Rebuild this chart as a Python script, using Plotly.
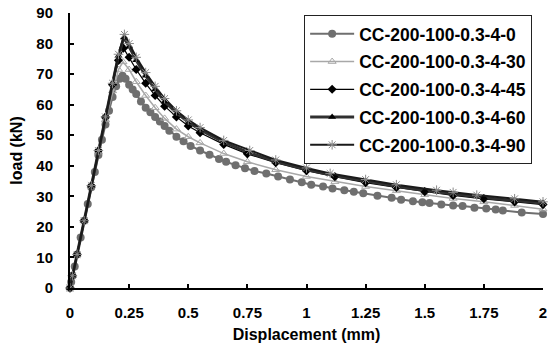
import plotly.graph_objects as go

# ---------------- data ----------------
names = ["CC-200-100-0.3-4-0", "CC-200-100-0.3-4-30", "CC-200-100-0.3-4-45",
         "CC-200-100-0.3-4-60", "CC-200-100-0.3-4-90"]

x_0 = [0, 0.005, 0.01, 0.02, 0.03, 0.045, 0.06, 0.075, 0.09, 0.105, 0.12, 0.135, 0.15,
       0.165, 0.18, 0.195, 0.21, 0.222, 0.235, 0.25, 0.265, 0.28, 0.30, 0.32, 0.34, 0.36,
       0.38, 0.40, 0.42, 0.45, 0.48, 0.51, 0.55, 0.59, 0.63, 0.66, 0.70, 0.74, 0.78, 0.83,
       0.88, 0.93, 0.98, 1.02, 1.07, 1.11, 1.16, 1.20, 1.24, 1.30, 1.36, 1.40, 1.45, 1.49,
       1.52, 1.57, 1.62, 1.66, 1.71, 1.76, 1.80, 1.83, 1.91, 2.0]
y_0 = [0, 2, 4, 7, 11, 16.5, 22, 27.5, 33, 38, 43.5, 48.5, 53.5,
       58, 62.5, 66, 68.5, 69.5, 68.5, 66.5, 65, 63.5, 61, 59, 57.5, 56,
       54.5, 53, 51.5, 49.5, 48, 46.5, 45, 43.6, 42.2, 41.3, 40.2, 39.2, 38.3, 37.5,
       36.5, 35.5, 34.6, 33.8, 33.2, 32.6, 32.0, 31.5, 31.0, 30.2, 29.5, 28.9, 28.4, 28.1,
       27.8, 27.3, 27.0, 26.8, 26.3, 26.0, 25.7, 25.4, 24.7, 24.2]

x_30 = [0, 0.01, 0.03, 0.06, 0.09, 0.12, 0.15, 0.18, 0.205, 0.224, 0.25, 0.28, 0.32,
        0.36, 0.40, 0.45, 0.50, 0.55, 0.65, 0.75, 0.87, 1.0, 1.12, 1.25, 1.38, 1.5,
        1.62, 1.75, 1.88, 2.0]
y_30 = [0, 4, 11, 22, 33.5, 44.5, 55, 64.5, 71.5, 74, 71.5, 67.5, 63,
        59, 55.5, 52, 49.5, 47.5, 44, 41.3, 38.7, 36.5, 34.8, 33.2, 31.8, 30.5,
        29.3, 28.2, 27.0, 25.8]

x_45 = [0, 0.01, 0.03, 0.06, 0.09, 0.12, 0.15, 0.18, 0.205, 0.226, 0.25, 0.28, 0.32,
        0.36, 0.40, 0.45, 0.50, 0.55, 0.65, 0.75, 0.87, 1.0, 1.12, 1.25, 1.38, 1.5,
        1.62, 1.75, 1.88, 2.0]
y_45 = [0, 4, 11, 22, 33.5, 45, 56, 66.5, 74.5, 78.5, 75.5, 71.5, 67,
        63, 59.5, 56, 53, 50.8, 47, 43.9, 41, 38.4, 36.4, 34.5, 32.9, 31.5,
        30.3, 29.2, 28.2, 27.3]

x_60 = [0, 0.01, 0.03, 0.06, 0.09, 0.12, 0.15, 0.18, 0.205, 0.228, 0.25, 0.28, 0.32,
        0.36, 0.40, 0.45, 0.50, 0.55, 0.65, 0.75, 0.87, 1.0, 1.12, 1.25, 1.38, 1.5,
        1.62, 1.75, 1.88, 2.0]
y_60 = [0, 4, 11, 22, 33.5, 45, 56, 67, 76, 82, 79, 74.5, 69.5,
        65, 61, 57.3, 54.3, 51.8, 47.7, 44.5, 41.4, 38.8, 36.7, 34.9, 33.3, 31.9,
        30.7, 29.6, 28.6, 27.8]

x_90 = [0, 0.01, 0.03, 0.06, 0.09, 0.12, 0.15, 0.18, 0.205, 0.23, 0.25, 0.28, 0.32,
        0.36, 0.40, 0.45, 0.50, 0.55, 0.65, 0.76, 0.87, 1.0, 1.1, 1.25, 1.38, 1.55,
        1.62, 1.72, 1.88, 2.0]
y_90 = [0, 4, 11, 22, 33.5, 45, 56, 67, 76.5, 83, 80, 75.5, 70.5,
        66, 62, 58, 55, 52.5, 48.3, 45, 41.9, 39.3, 37.5, 35.5, 33.8, 32.0,
        31.3, 30.4, 29.2, 28.2]

x_tick_vals = [0, 0.25, 0.5, 0.75, 1, 1.25, 1.5, 1.75, 2]
x_tick_text = ["0", "0.25", "0.5", "0.75", "1", "1.25", "1.5", "1.75", "2"]
y_tick_vals = [0, 10, 20, 30, 40, 50, 60, 70, 80, 90]

# ---------------- figure ----------------
FONT = "Liberation Sans, Arial, sans-serif"

series = [
    (x_0, y_0, dict(color="#6f6f6f", width=2),
     dict(symbol="circle", size=8, color="#6f6f6f")),
    (x_30, y_30, dict(color="#a8a8a8", width=1.5),
     dict(symbol="triangle-up-open", size=7, color="#a8a8a8", line=dict(width=1, color="#a8a8a8"))),
    (x_45, y_45, dict(color="#000000", width=1.2),
     dict(symbol="diamond", size=7, color="#000000")),
    (x_60, y_60, dict(color="#303030", width=3),
     dict(symbol="triangle-up", size=7, color="#000000")),
    (x_90, y_90, dict(color="#1a1a1a", width=2),
     dict(symbol="asterisk-open", size=8, color="#8a8a8a", line=dict(width=1, color="#8a8a8a"))),
]

fig = go.Figure()
for name, (xs, ys, line, marker) in zip(names, series):
    fig.add_trace(go.Scatter(x=xs, y=ys, mode="lines+markers", name=name,
                             line=line, marker=marker, legendgroup=name, cliponaxis=False))

fig.update_layout(
    width=550, height=350,
    margin=dict(l=70, r=7, t=13, b=62, autoexpand=False),
    paper_bgcolor="white", plot_bgcolor="white",
    font=dict(family=FONT, size=15, color="black", weight="bold"),
    showlegend=True,
    legend=dict(x=0.495, y=0.993, xanchor="left", yanchor="top",
                bgcolor="white", bordercolor="#222222", borderwidth=1,
                font=dict(family=FONT, size=17.5, color="black", weight="bold"),
                traceorder="grouped", tracegroupgap=2, itemwidth=44),
    xaxis=dict(range=[0, 2], tickmode="array", tickvals=x_tick_vals, ticktext=x_tick_text,
               showline=True, linecolor="black", linewidth=2, ticks="inside", ticklen=4,
               tickwidth=2, tickcolor="black", showgrid=False, zeroline=False,
               ticklabelstandoff=10, automargin=False,
               title=dict(text="Displacement (mm)", font=dict(size=16, weight="bold"), standoff=9)),
    yaxis=dict(range=[0, 90], tickmode="array", tickvals=y_tick_vals,
               showline=True, linecolor="black", linewidth=2, ticks="inside", ticklen=4,
               tickwidth=2, tickcolor="black", showgrid=False, zeroline=False,
               ticklabelstandoff=12, automargin=False,
               title=dict(text="load (kN)", font=dict(size=16, weight="bold"), standoff=10)),
)

fig.write_html("out.html", config={"displayModeBar": False},
               post_script="document.body.style.margin='0';document.body.style.overflow='hidden';")
